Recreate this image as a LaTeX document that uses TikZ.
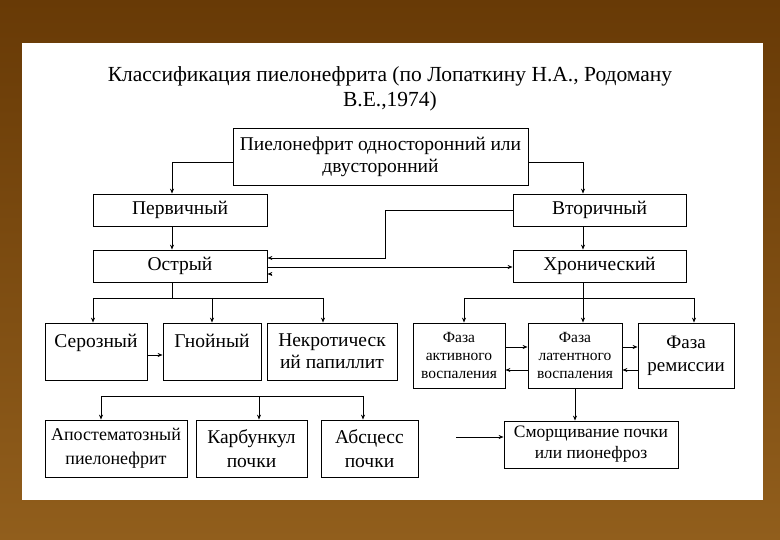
\documentclass[tikz,border=0pt]{standalone}
\usepackage{fontspec}
\setmainfont{Liberation Serif}
\usetikzlibrary{arrows.meta}
\begin{document}
\begin{tikzpicture}[x=1pt,y=-1pt,
  box/.style={draw,line width=0.8pt,inner sep=0pt,align=center,font=\fontsize{19.5}{22}\selectfont},
  bbox/.style={box,font=\fontsize{19.5}{24}\selectfont},
  pbox/.style={box,font=\fontsize{15.5}{18}\selectfont},
  arr/.style={-{Stealth[length=5pt,width=4pt]},line width=0.8pt},
  ln/.style={line width=0.8pt}]
\useasboundingbox (0,0) rectangle (780,540);
\shade[top color={rgb,255:red,104;green,58;blue,6},bottom color={rgb,255:red,145;green,94;blue,28}] (0,0) rectangle (780,540);
\fill[white] (22,43) rectangle (763,500);

\node[font=\fontsize{21.5}{25}\selectfont,align=center] (title) at (390,89)
  {Классификация пиелонефрита (по Лопаткину Н.А., Родоману\\В.Е.,1974)};

\node[box,minimum width=295pt,minimum height=57pt] (top) at (380.5,156.5) {Пиелонефрит односторонний или\\двусторонний};
\node[box,minimum width=174pt,minimum height=32pt] (perv) at (180,210) {Первичный};
\node[box,minimum width=173pt,minimum height=32pt] (vtor) at (599.5,210) {Вторичный};
\node[box,minimum width=174pt,minimum height=32pt] (ostr) at (180,266) {Острый};
\node[box,minimum width=173pt,minimum height=32pt] (hron) at (599.5,266) {Хронический};

\node[box,minimum width=102pt,minimum height=57pt] (seroz) at (96,351.5) {Серозный\\~};
\node[box,minimum width=98pt,minimum height=57pt] (gnoi) at (212,351.5) {Гнойный\\~};
\node[box,minimum width=130pt,minimum height=57pt] (nekr) at (332,351.5) {Некротическ\\ий папиллит};

\node[pbox,minimum width=92pt,minimum height=65pt] (akt) at (459,355.5) {Фаза\\активного\\воспаления};
\node[pbox,minimum width=94pt,minimum height=65pt] (lat) at (575,355.5) {Фаза\\латентного\\воспаления};
\node[box,font=\fontsize{19}{23}\selectfont,minimum width=96pt,minimum height=65pt] (rem) at (686,355.5) {Фаза\\ремиссии};

\node[bbox,font=\fontsize{18}{24}\selectfont,minimum width=142pt,minimum height=57pt] (apost) at (116,448.5) {Апостематозный\\пиелонефрит};
\node[bbox,minimum width=111pt,minimum height=57pt] (karb) at (251.5,448.5) {Карбункул\\почки};
\node[bbox,minimum width=97pt,minimum height=57pt] (absc) at (369.5,448.5) {Абсцесс\\почки};
\node[box,font=\fontsize{17.5}{21}\selectfont,minimum width=174pt,minimum height=47pt] (smor) at (591,444.5) {Сморщивание почки\\или пионефроз};

% helper coordinates
\coordinate (cl) at (172,0);
\coordinate (cr) at (583,0);
\coordinate (k1) at (385,258);
\coordinate (k2) at (0,267);
\coordinate (k3) at (272,274);
\coordinate (jl) at (172,298);
\coordinate (a1) at (93,298);
\coordinate (a2) at (212,298);
\coordinate (a3) at (323,298);
\coordinate (k4) at (0,355);
\coordinate (b1) at (464,298);
\coordinate (b2) at (583,298);
\coordinate (b3) at (694,298);
\coordinate (k5) at (0,347);
\coordinate (k6) at (0,370);
\coordinate (d1) at (101,396);
\coordinate (d2) at (259,396);
\coordinate (d3) at (363,396);
\coordinate (f1) at (456,437);

% top level
\draw[arr] ([yshift=-5.5pt]top.west) -| (perv.north -| cl);
\draw[arr] ([yshift=-5.5pt]top.east) -| (vtor.north -| cr);
\draw[arr] (perv.south -| cl) -- (ostr.north -| cl);
\draw[arr] (vtor.south -| cr) -- (hron.north -| cr);
\draw[arr] (vtor.west) -| (k1) -- (k1 -| ostr.east);
\draw[arr] (ostr.east |- k2) -- (hron.west |- k2);
\draw[arr] (k3) -- (k3 -| ostr.east);

% left branch
\draw[ln] (ostr.south -| cl) -- (jl);
\draw[ln] (a1) -- (a3);
\draw[arr] (a1) -- (a1 |- seroz.north);
\draw[arr] (a2) -- (a2 |- gnoi.north);
\draw[arr] (a3) -- (a3 |- nekr.north);
\draw[arr] (seroz.east |- k4) -- (gnoi.west |- k4);

% right branch
\draw[ln] (hron.south -| cr) -- (b2);
\draw[ln] (b1) -- (b3);
\draw[arr] (b1) -- (b1 |- akt.north);
\draw[arr] (b2) -- (b2 |- lat.north);
\draw[arr] (b3) -- (b3 |- rem.north);
\draw[arr] (akt.east |- k5) -- (lat.west |- k5);
\draw[arr] (lat.west |- k6) -- (akt.east |- k6);
\draw[arr] (lat.east |- k5) -- (rem.west |- k5);
\draw[arr] (rem.west |- k6) -- (lat.east |- k6);
\draw[arr] (lat.south) -- (smor.north -| lat.south);
\draw[arr] (f1) -- (f1 -| smor.west);

% bottom left
\draw[ln] (d1) -- (d3);
\draw[arr] (d1) -- (d1 |- apost.north);
\draw[arr] (d2) -- (d2 |- karb.north);
\draw[arr] (d3) -- (d3 |- absc.north);
\end{tikzpicture}
\end{document}
